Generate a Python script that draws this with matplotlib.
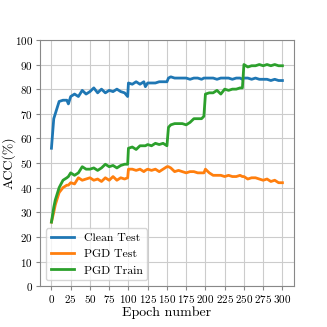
import numpy as np
import matplotlib
matplotlib.use('Agg')
import matplotlib.pyplot as plt

plt.rcParams['font.family'] = 'serif'
plt.rcParams['font.serif'] = ['cmr10']
plt.rcParams['mathtext.fontset'] = 'cm'
plt.rcParams['axes.formatter.use_mathtext'] = True

# values
epochs = [0, 3, 5, 10, 15, 20, 22, 25, 30, 35, 40, 45, 50, 55, 60, 65, 70, 75, 80, 85,
          90, 95, 99, 100, 105, 110, 115, 120, 122, 125, 130, 135, 140, 145, 150, 152,
          155, 160, 165, 170, 175, 180, 185, 190, 195, 198, 200, 205, 210, 215, 220,
          225, 230, 235, 240, 245, 248, 250, 255, 260, 265, 270, 275, 280, 285, 290,
          295, 300]

clean_test = [56, 68, 70, 75, 75.5, 75.5, 74, 77, 78, 77, 79.5, 78, 79, 80.5, 78.5, 80,
              78.5, 79.5, 79, 80, 79, 78.5, 77, 82.5, 82, 83, 82, 83, 81, 82.5, 82.5,
              82.5, 83, 83, 83, 84.5, 85, 84.5, 84.5, 84.5, 84.5, 84, 84.5, 84.5, 84,
              84.5, 84.5, 84.5, 84.5, 84, 84.5, 84.5, 84.5, 84, 84.5, 84.5, 84, 84.5,
              84.5, 84, 84.5, 84, 84, 84, 83.5, 84, 83.5, 83.5]

pgd_test = [26, 30, 33, 38, 40, 41, 41, 42, 41.5, 44, 43, 43.5, 44, 43, 43.5, 42.5, 44,
            43, 44.5, 43, 44, 43.5, 44, 47.5, 47.5, 47, 47.5, 46.5, 47, 47.5, 47,
            47.5, 46.5, 47.5, 48.5, 48.5, 48, 46.5, 47, 46.5, 46, 46.5, 46.5, 46, 46,
            46, 47.5, 46, 45, 45, 45, 44.5, 45, 44.5, 44.5, 45, 44.5, 44.5, 43.5, 44,
            44, 43.5, 43, 43.5, 42.5, 43, 42, 42]

pgd_train = [26, 32, 35, 40, 43, 44, 44.5, 46, 45, 46, 48.5, 47.5, 47.5, 48, 47, 48,
             49.5, 48.5, 49, 48, 49, 49.5, 49.5, 56, 56.5, 55.5, 57, 57, 57, 57.5, 57,
             58, 57.5, 58, 57, 64.5, 65.5, 66, 66, 66, 65.5, 66.5, 68, 68, 68, 69, 78,
             78.5, 78.5, 79.5, 78, 80, 79.5, 80, 80, 80.5, 80.5, 90, 89, 89.5, 89.5,
             90, 89.5, 90, 89.5, 90, 89.5, 89.5]

fig = plt.figure(figsize=(3.27, 3.27), dpi=100)
ax = fig.add_axes([0.122, 0.125, 0.777, 0.753])

ax.plot(epochs, clean_test, color='tab:blue', lw=2, label='Clean Test')
ax.plot(epochs, pgd_test, color='tab:orange', lw=2, label='PGD Test')
ax.plot(epochs, pgd_train, color='tab:green', lw=2, label='PGD Train')

ax.set_ylim(0, 100)
ax.set_xticks(np.arange(0, 301, 25))
ax.set_yticks(np.arange(0, 101, 10))
ax.tick_params(labelsize=8, length=3, pad=2, color='#888888')
ax.grid(True, color='#cccccc', lw=0.8)
ax.set_axisbelow(True)
for sp in ax.spines.values():
    sp.set_color('#888888')

ax.set_xlabel('Epoch number', fontsize=10, labelpad=1)
ax.set_ylabel('ACC(%)', fontsize=10)
ax.yaxis.set_label_coords(-0.095, 0.5)
ax.legend(loc='lower left', fontsize=8.5, fancybox=True, framealpha=0.8)

fig.savefig('out.png', dpi=100)
